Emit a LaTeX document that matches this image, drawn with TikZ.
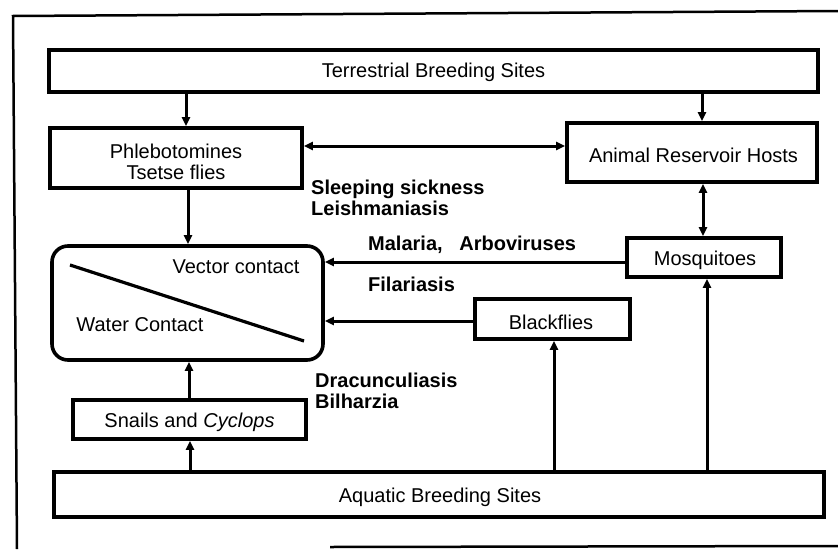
\documentclass[tikz,border=0pt]{standalone}
\usepackage{fontspec}
\setmainfont{Liberation Sans}
\usetikzlibrary{arrows.meta}
\begin{document}
\begin{tikzpicture}[x=1pt,y=-1pt,
  every node/.style={font=\fontsize{20}{21}\selectfont},
  box/.style={draw,line width=3.6pt,inner sep=0pt,align=center},
  rbox/.style={draw,line width=3.6pt,rounded corners=16pt,inner sep=0pt},
  lab/.style={anchor=west,align=left,inner sep=0pt,font=\fontsize{20}{21}\selectfont\bfseries},
  arr/.style={line width=3pt,-{Triangle[length=9pt,width=8pt]}},
  darr/.style={line width=3pt,{Triangle[length=9pt,width=8pt]}-{Triangle[length=9pt,width=8pt]}},
  frame/.style={line width=2.5pt}]
\useasboundingbox (0,0) rectangle (838,549);
% outer frame
\draw[frame] (838,11) -- (13,16) -- (17,549);
\draw[frame] (330,547) -- (838,546);
% boxes
\node[box,minimum width=769pt,minimum height=42pt] (terr) at (433.5,71) {};
\node (terrt) at (433.5,72) {Terrestrial Breeding Sites};
\node[box,minimum width=252pt,minimum height=60pt] (phleb) at (176,158) {};
\node[align=center,inner sep=0pt] (phlebt) at (176,162) {Phlebotomines\\Tsetse flies};
\node[box,minimum width=250pt,minimum height=59pt] (animal) at (692,152.5) {};
\node (animalt) at (693.5,155) {Animal Reservoir Hosts};
\node[box,minimum width=154pt,minimum height=39pt] (mosq) at (704,257.5) {};
\node (mosqt) at (705,260) {Mosquitoes};
\node[rbox,minimum width=271pt,minimum height=114pt] (water) at (187.5,303) {};
\coordinate (d1) at (70,265);
\coordinate (d2) at (304,341);
\draw[line width=3.2pt] (d1) -- (d2);
\node (vc) at (236,267) {Vector contact};
\node (wc) at (140,325) {Water Contact};
\node[box,minimum width=155pt,minimum height=40pt] (black) at (552.5,319) {};
\node (blackt) at (551,322) {Blackflies};
\node[box,minimum width=233pt,minimum height=39pt] (snails) at (189.5,419.5) {};
\node (snailst) at (189.5,422) {Snails and \textit{Cyclops}};
\node[box,minimum width=770pt,minimum height=45pt] (aqua) at (439,494.5) {};
\node (aquat) at (440,497) {Aquatic Breeding Sites};
% labels
\node[lab] (ss) at (311,197.5) {Sleeping sickness\\Leishmaniasis};
\node[lab] (mal) at (368,245) {Malaria,\ \ \ Arboviruses};
\node[lab] (fil) at (368,284) {Filariasis};
\node[lab] (dra) at (315,390.5) {Dracunculiasis\\Bilharzia};
% arrows
\draw[arr] (186,0 |- terr.south) -- (186,0 |- phleb.north);
\draw[arr] (702,0 |- terr.south) -- (702,0 |- animal.north);
\draw[darr] (phleb.east |- 0,146) -- (animal.west |- 0,146);
\draw[arr] (188,0 |- phleb.south) -- (188,0 |- water.north);
\draw[darr] (703,0 |- animal.south) -- (703,0 |- mosq.north);
\draw[arr] (mosq.west |- 0,262) -- (water.east |- 0,262);
\draw[arr] (black.west |- 0,321) -- (water.east |- 0,321);
\draw[arr] (189,0 |- snails.north) -- (189,0 |- water.south);
\draw[arr] (190,0 |- aqua.north) -- (190,0 |- snails.south);
\draw[arr] (554,0 |- aqua.north) -- (554,0 |- black.south);
\draw[arr] (707,0 |- aqua.north) -- (707,0 |- mosq.south);
\end{tikzpicture}
\end{document}
